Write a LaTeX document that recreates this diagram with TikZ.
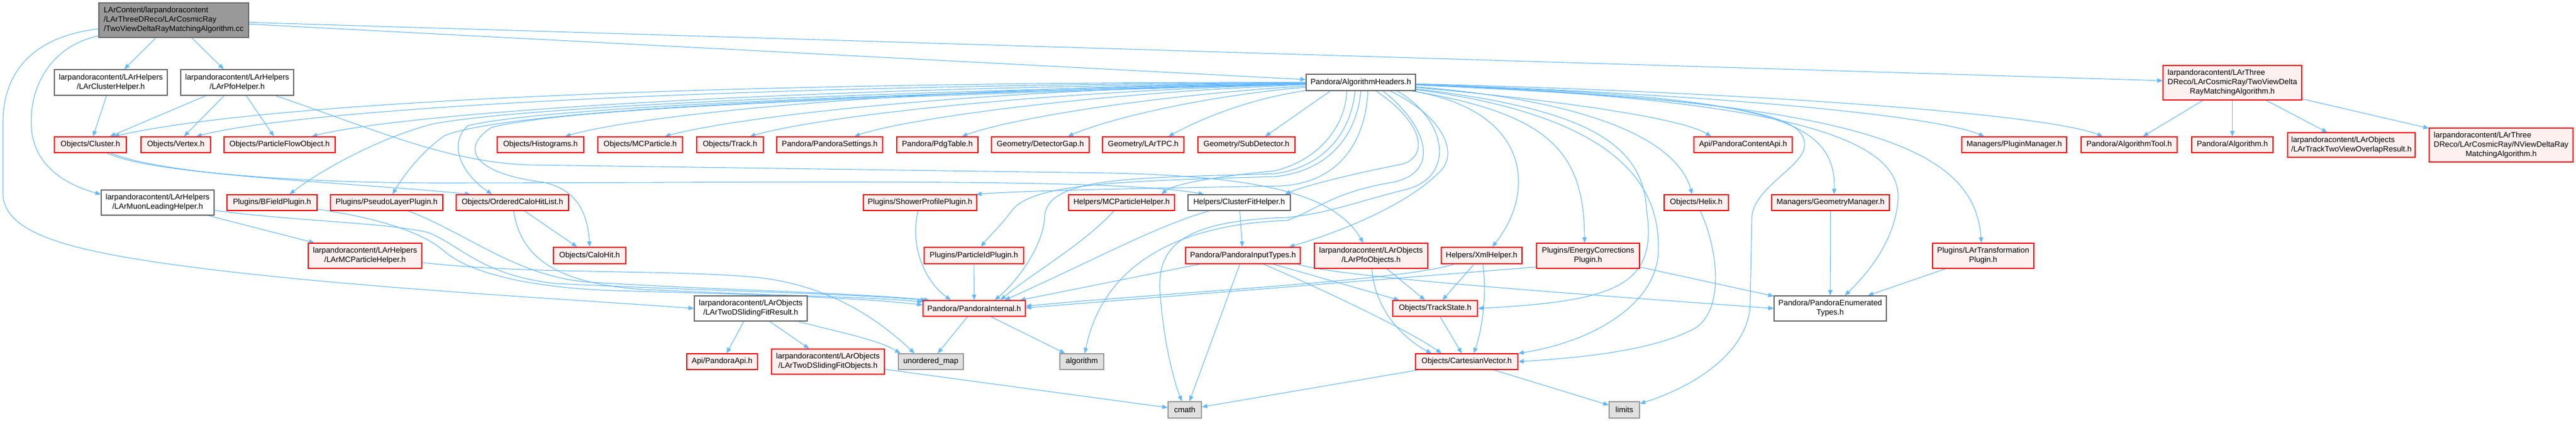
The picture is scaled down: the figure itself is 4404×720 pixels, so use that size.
\documentclass[tikz,border=0pt]{standalone}
\usepackage{fontspec}
\setmainfont{Liberation Sans}
\usetikzlibrary{arrows.meta,calc}
\pgfdeclarelayer{bg}
\pgfsetlayers{bg,main}
\definecolor{edgec}{HTML}{63B8FF}
\definecolor{redfill}{HTML}{FFF0F0}
\definecolor{greyforty}{HTML}{666666}
\definecolor{greysixty}{HTML}{999999}
\definecolor{sysfill}{HTML}{E0E0E0}
\newcommand{\dtwo}[2]{\begin{tabular}{@{}l@{}}#1\\\multicolumn{1}{@{}c@{}}{#2}\end{tabular}}
\newcommand{\dthree}[3]{\begin{tabular}{@{}l@{}}#1\\#2\\\multicolumn{1}{@{}c@{}}{#3}\end{tabular}}
\begin{document}
\begin{tikzpicture}[x=0.75pt,y=-0.75pt,
  bx/.style 2 args={minimum width=#1*0.75pt,minimum height=#2*0.75pt},
  nd/.style={draw,inner sep=0pt,line width=1pt,font=\fontsize{10}{12}\selectfont,text=black},
  rn/.style={nd,draw=red,fill=redfill},
  wn/.style={nd,draw=greyforty,fill=white},
  gn/.style={nd,draw=greyforty,fill=greysixty},
  sn/.style={nd,draw=greysixty,fill=sysfill},
  e/.style={draw=edgec,line width=0.8pt,-{Triangle[length=7pt,width=5.5pt]}}]
% ---------------- nodes
\node[gn,bx={256}{59}] (top) at (297,34.5) {\dthree{LArContent/larpandoracontent}{/LArThreeDReco/LArCosmicRay}{/TwoViewDeltaRayMatchingAlgorithm.cc}};
\node[wn,bx={193}{44}] (clh) at (189.5,141) {\dtwo{larpandoracontent/LArHelpers}{/LArClusterHelper.h}};
\node[wn,bx={193}{44}] (pfoh) at (405.5,141) {\dtwo{larpandoracontent/LArHelpers}{/LArPfoHelper.h}};
\node[rn,bx={123}{27}] (cluster) at (154.5,247.5) {Objects/Cluster.h};
\node[rn,bx={119}{27}] (vertex) at (300.5,247.5) {Objects/Vertex.h};
\node[rn,bx={190}{27}] (pfo) at (478,247.5) {Objects/ParticleFlowObject.h};
\node[wn,bx={193}{43}] (muon) at (269.5,346.5) {\dtwo{larpandoracontent/LArHelpers}{/LArMuonLeadingHelper.h}};
\node[rn,bx={154}{27}] (bfield) at (465,346.5) {Plugins/BFieldPlugin.h};
\node[rn,bx={192}{27}] (pseudo) at (661,346.5) {Plugins/PseudoLayerPlugin.h};
\node[rn,bx={194}{43}] (mcph) at (624,437.5) {\dtwo{larpandoracontent/LArHelpers}{/LArMCParticleHelper.h}};
\node[rn,bx={148}{27}] (histo) at (924,247.5) {Objects/Histograms.h};
\node[rn,bx={145}{27}] (mcparticle) at (1094.5,247.5) {Objects/MCParticle.h};
\node[rn,bx={114}{27}] (track) at (1248,247.5) {Objects/Track.h};
\node[rn,bx={181}{27}] (settings) at (1418.5,247.5) {Pandora/PandoraSettings.h};
\node[rn,bx={192}{27}] (ochl) at (876,346.5) {Objects/OrderedCaloHitList.h};
\node[rn,bx={124}{28}] (calohit) at (1008,437) {Objects/CaloHit.h};
\node[wn,bx={193}{43}] (sfr) at (1283.5,527.5) {\dtwo{larpandoracontent/LArObjects}{/LArTwoDSlidingFitResult.h}};
\node[rn,bx={121}{27}] (papi) at (1234.5,618.5) {Api/PandoraApi.h};
\node[rn,bx={193}{43}] (sfo) at (1415.5,618.5) {\dtwo{larpandoracontent/LArObjects}{/LArTwoDSlidingFitObjects.h}};
\node[rn,bx={139}{27}] (pdg) at (1602.5,247.5) {Pandora/PdgTable.h};
\node[rn,bx={167}{27}] (gap) at (1778.5,247.5) {Geometry/DetectorGap.h};
\node[rn,bx={139}{27}] (tpc) at (1954.5,247.5) {Geometry/LArTPC.h};
\node[rn,bx={166}{27}] (subdet) at (2131,247.5) {Geometry/SubDetector.h};
\node[rn,bx={194}{27}] (shower) at (1573,346.5) {Plugins/ShowerProfilePlugin.h};
\node[rn,bx={181}{27}] (mcpart2) at (1917.5,346.5) {Helpers/MCParticleHelper.h};
\node[wn,bx={175}{27}] (cfh) at (2118.5,346.5) {Helpers/ClusterFitHelper.h};
\node[rn,bx={170}{28}] (pid) at (1665,437) {Plugins/ParticleIdPlugin.h};
\node[rn,bx={175}{27}] (internal) at (1665.5,527.5) {Pandora/PandoraInternal.h};
\node[sn,bx={111}{27}] (umap) at (1591.5,618.5) {unordered\_map};
\node[sn,bx={75}{27}] (algo) at (1849.5,618.5) {algorithm};
\node[sn,bx={57}{28}] (cmath) at (2025.5,701) {cmath};
\node[rn,bx={196}{28}] (input) at (2125,437) {Pandora/PandoraInputTypes.h};
\node[wn,bx={187}{28}] (ah) at (2326.5,141) {Pandora/AlgorithmHeaders.h};
\node[rn,bx={168}{27}] (capi) at (2980,247.5) {Api/PandoraContentApi.h};
\node[rn,bx={110}{27}] (helix) at (2900,346.5) {Objects/Helix.h};
\node[rn,bx={194}{43}] (pfoobj) at (2344,437.5) {\dtwo{larpandoracontent/LArObjects}{/LArPfoObjects.h}};
\node[rn,bx={138}{28}] (xml) at (2533,437) {Helpers/XmlHelper.h};
\node[rn,bx={176}{43}] (ecp) at (2715,437.5) {\dtwo{Plugins/EnergyCorrections}{Plugin.h}};
\node[rn,bx={145}{27}] (tstate) at (2453.5,527.5) {Objects/TrackState.h};
\node[rn,bx={175}{27}] (cv) at (2507.5,618.5) {Objects/CartesianVector.h};
\node[sn,bx={52}{28}] (limits) at (2777,701) {limits};
\node[rn,bx={179}{27}] (pm) at (3443.5,247.5) {Managers/PluginManager.h};
\node[rn,bx={164}{27}] (atool) at (3640,247.5) {Pandora/AlgorithmTool.h};
\node[rn,bx={201}{27}] (gm) at (3129.5,346.5) {Managers/GeometryManager.h};
\node[rn,bx={173}{43}] (ltp) at (3390.5,437.5) {\dtwo{Plugins/LArTransformation}{Plugin.h}};
\node[wn,bx={192}{43}] (enum) at (3129,527.5) {\dtwo{Pandora/PandoraEnumerated}{Types.h}};
\node[rn,bx={237}{59}] (tvh) at (3816.5,141.5) {\dthree{larpandoracontent/LArThree}{DReco/LArCosmicRay/TwoViewDelta}{RayMatchingAlgorithm.h}};
\node[rn,bx={139}{27}] (alg) at (3816.5,247.5) {Pandora/Algorithm.h};
\node[rn,bx={218}{42}] (overlap) at (4020,248) {\dtwo{larpandoracontent/LArObjects}{/LArTrackTwoViewOverlapResult.h}};
\node[rn,bx={246}{58}] (nview) at (4276,248) {\dthree{larpandoracontent/LArThree}{DReco/LArCosmicRay/NViewDeltaRay}{MatchingAlgorithm.h}};
% ---------------- edges
\begin{pgfonlayer}{bg}
\fill[white] (0,0) rectangle (4404,720);
% from the .cc file
\draw[e] (top) -- (clh);
\draw[e] (top) -- (pfoh);
\draw[e] (top) -- (ah);
\draw[e] (top) -- (tvh);
\draw[e] (top) .. controls (80,80) and (45,160) .. (55,230) .. controls (65,290) and (120,318) .. ($(muon.north west)+(0,8)$);
\draw[e] (top) .. controls (60,62) and (5,120) .. (5,210) -- (5,330) .. controls (5,400) and (120,430) .. (330,457) .. controls (600,492) and (950,510) .. (sfr.west);
% helpers
\draw[e] (clh) -- (cluster);
\draw[e] (pfoh) -- (cluster);
\draw[e] (pfoh) -- (vertex);
\draw[e] (pfoh) -- (pfo);
\draw[e] (pfoh) .. controls (650,225) and (760,275) .. (900,282) -- (1900,296) .. controls (2150,302) and (2280,330) .. (pfoobj);
\draw[e] (cluster) .. controls (260,300) and (600,312) .. ($(ochl.north west)+(25,0)$);
\draw[e] (cluster) .. controls (270,295) and (500,312) .. (740,313) .. controls (1300,313) and (1900,303) .. ($(cfh.north west)+(28,0)$);
% AlgorithmHeaders, to the left
\draw[e] (ah) .. controls (1200,140) and (450,175) .. ($(cluster.north)+(40,0)$);
\draw[e] (ah) .. controls (1250,145) and (520,185) .. ($(vertex.north)+(35,0)$);
\draw[e] (ah) .. controls (1300,150) and (680,195) .. ($(pfo.north)+(55,0)$);
\draw[e] (ah) .. controls (1300,160) and (850,190) .. (740,212) .. controls (650,235) and (550,290) .. ($(bfield.north)+(30,0)$);
\draw[e] (ah) .. controls (1300,165) and (850,195) .. (760,232) .. controls (720,260) and (690,300) .. ($(pseudo.north)+(10,0)$);
\draw[e] (ah) .. controls (1300,165) and (900,190) .. (800,215) .. controls (770,240) and (780,290) .. ($(ochl.north)+(-35,0)$);
\draw[e] (ah) .. controls (1300,170) and (950,190) .. (840,218) .. controls (790,250) and (800,295) .. (930,312) .. controls (990,325) and (1005,370) .. (calohit.north);
\draw[e] (ah) .. controls (1500,150) and (1080,200) .. ($(histo.north)+(42,0)$);
\draw[e] (ah) .. controls (1600,155) and (1240,205) .. ($(mcparticle.north)+(42,0)$);
\draw[e] (ah) .. controls (1700,160) and (1380,205) .. ($(track.north)+(34,0)$);
\draw[e] (ah) .. controls (1850,160) and (1540,205) .. ($(settings.north)+(42,0)$);
\draw[e] (ah) .. controls (1950,165) and (1720,205) .. ($(pdg.north)+(42,0)$);
\draw[e] (ah) .. controls (2050,165) and (1890,205) .. ($(gap.north)+(47,0)$);
\draw[e] (ah) .. controls (2130,170) and (2050,205) .. ($(tpc.north)+(43,0)$);
\draw[e] ($(ah.south west)+(42,0)$) -- ($(subdet.north)+(32,0)$);
% AlgorithmHeaders, downwards
\draw[e] ($(ah.south)+(-24,0)$) .. controls (2300,220) and (2250,275) .. (2180,292) .. controls (2100,300) and (2010,312) .. ($(mcpart2.north)+(68,0)$);
\draw[e] ($(ah.south)+(-10,0)$) .. controls (2310,225) and (2265,285) .. (2180,297) .. controls (1950,305) and (1790,300) .. (1786,370) .. controls (1784,420) and (1740,480) .. ($(internal.north)+(35,0)$);
\draw[e] (ah.south) .. controls (2320,228) and (2275,292) .. (2180,302) .. controls (1900,310) and (1765,315) .. (1730,360) .. controls (1712,385) and (1690,405) .. ($(pid.north)+(12,0)$);
\draw[e] ($(ah.south)+(12,0)$) .. controls (2335,235) and (2295,312) .. (2190,318) .. controls (1950,322) and (1750,326) .. ($(shower.north east)+(-2,0)$);
\draw[e] ($(ah.south)+(26,0)$) .. controls (2420,200) and (2450,260) .. (2400,280) .. controls (2300,300) and (2230,318) .. ($(cfh.north east)+(-10,0)$);
\draw[e] ($(ah.south)+(38,0)$) .. controls (2440,215) and (2465,295) .. (2380,312) .. controls (2280,328) and (2245,362) .. (2200,377) .. controls (1975,385) and (1880,480) .. ($(algo.north)+(5,0)$);
\draw[e] ($(ah.south)+(50,0)$) .. controls (2470,200) and (2495,265) .. (2460,295) .. controls (2400,355) and (2280,400) .. ($(input.north east)+(-20,0)$);
\draw[e] ($(ah.south)+(62,0)$) .. controls (2475,205) and (2490,305) .. (2400,325) .. controls (2320,345) and (2270,365) .. (2200,372) .. controls (1990,378) and (1975,440) .. (1985,520) .. controls (1992,600) and (2010,660) .. ($(cmath.north)+(-5,0)$);
% AlgorithmHeaders, to the right
\draw[e] (ah) .. controls (2620,190) and (2625,330) .. ($(xml.north)+(18,0)$);
\draw[e] (ah) .. controls (2650,195) and (2708,260) .. ($(ecp.north)+(-6,0)$);
\draw[e] (ah) .. controls (2700,185) and (2810,240) .. (2815,360) .. controls (2835,490) and (2760,515) .. (tstate.east);
\draw[e] (ah) .. controls (2740,195) and (2835,300) .. (2835,420) .. controls (2840,520) and (2720,585) .. (cv.north east);
\draw[e] (ah) .. controls (2750,175) and (2870,250) .. ($(helix.north)+(-7,0)$);
\draw[e] (ah) .. controls (2700,175) and (2880,205) .. ($(capi.north west)+(30,0)$);
\draw[e] (ah) .. controls (2900,160) and (3300,195) .. ($(pm.north)+(-51,0)$);
\draw[e] (ah) .. controls (3000,158) and (3500,195) .. ($(atool.north)+(-45,0)$);
\draw[e] (ah) .. controls (3000,165) and (3140,195) .. ($(gm.north)+(6,0)$);
\draw[e] (ah) .. controls (3050,170) and (3250,235) .. (3245,340) .. controls (3240,420) and (3180,480) .. ($(enum.north)+(25,0)$);
\draw[e] (ah) .. controls (3200,175) and (3375,255) .. ($(ltp.north)+(-3,0)$);
\draw[e] (ah) .. controls (2950,170) and (3090,190) .. (3085,250) .. controls (3082,285) and (3000,320) .. (2995,370) -- (2992,520) .. controls (2990,600) and (2900,660) .. ($(limits.north east)+(0,4)$);
% lower levels
\draw[e] (muon) -- (mcph);
\draw[e] (muon) .. controls (500,378) and (650,380) .. (730,397) .. controls (790,420) and (820,470) .. (950,485) .. controls (1200,497) and (1450,502) .. ($(internal.north west)+(6,0)$);
\draw[e] (bfield) .. controls (640,372) and (720,395) .. (760,430) .. controls (800,465) and (900,492) .. (1050,497) .. controls (1250,503) and (1450,507) .. ($(internal.west)+(0,-6)$);
\draw[e] (pseudo) .. controls (800,400) and (880,470) .. (1000,482) .. controls (1200,495) and (1450,500) .. ($(internal.north west)+(12,0)$);
\draw[e] (ochl) .. controls (890,440) and (950,485) .. (1100,495) .. controls (1300,505) and (1480,507) .. ($(internal.west)+(0,-11)$);
\draw[e] (mcph) .. controls (900,470) and (1150,460) .. (1300,475) .. controls (1420,490) and (1500,545) .. ($(umap.north)+(-28,0)$);
\draw[e] (sfr) .. controls (1420,565) and (1500,580) .. ($(umap.north west)+(4,0)$);
\draw[e] (sfr) -- (papi);
\draw[e] (sfr) -- (sfo);
\draw[e] (sfo) -- (cmath);
\draw[e] (ochl) -- (calohit);
\draw[e] (internal) -- (umap);
\draw[e] (internal) -- (algo);
\draw[e] (pid) -- (internal);
\draw[e] (shower) .. controls (1555,420) and (1580,480) .. ($(internal.north)+(-40,0)$);
\draw[e] (mcpart2) .. controls (1850,420) and (1760,470) .. ($(internal.north)+(45,0)$);
\draw[e] (cfh) .. controls (1980,385) and (1870,445) .. ($(internal.north)+(52,0)$);
\draw[e] (cfh) -- (input);
\draw[e] (input) -- ($(internal.north east)+(-10,0)$);
\draw[e] (input) -- ($(cmath.north)+(8,0)$);
\draw[e] (input) -- ($(tstate.north west)+(12,0)$);
\draw[e] (input) .. controls (2250,490) and (2400,560) .. ($(cv.north)+(-43,0)$);
\draw[e] ($(input.south east)+(-5,0)$) .. controls (2280,475) and (2800,510) .. (enum.west);
\draw[e] ($(xml.south west)+(23,0)$) .. controls (2400,480) and (2000,500) .. ($(internal.east)+(0,-4)$);
\draw[e] ($(ecp.south west)+(0,-3)$) -- ($(internal.east)+(0,-1)$);
\draw[e] (ecp) -- (enum);
\draw[e] (pfoobj) -- (tstate);
\draw[e] (pfoobj) .. controls (2350,530) and (2400,580) .. ($(cv.north)+(-60,0)$);
\draw[e] (xml) -- (tstate);
\draw[e] (xml) .. controls (2542,500) and (2535,560) .. ($(cv.north)+(12,0)$);
\draw[e] (tstate) -- (cv);
\draw[e] (cv) -- (limits);
\draw[e] (cv) -- (cmath);
\draw[e] (helix) .. controls (2935,420) and (2950,525) .. (2900,560) .. controls (2830,600) and (2700,612) .. (cv.east);
\draw[e] (gm) -- (enum);
\draw[e] (ltp) -- (enum);
\draw[e] (tvh) -- (atool);
\draw[e] (tvh) -- (alg);
\draw[e] (tvh) -- (overlap);
\draw[e] (tvh) -- (nview);
\end{pgfonlayer}
\end{tikzpicture}
\end{document}
